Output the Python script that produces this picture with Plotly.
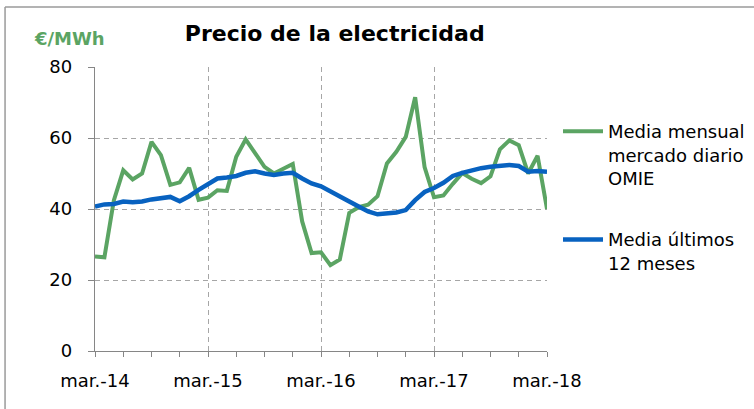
import plotly.graph_objects as go

# Monthly data, mar-2014 .. mar-2018 (49 months)
month_labels = ["mar.-14", "mar.-15", "mar.-16", "mar.-17", "mar.-18"]
month_index = list(range(49))

omie_monthly = [
    26.6, 26.4, 42.4, 50.9, 48.3, 50.0, 58.9, 55.2, 46.8, 47.5, 51.6, 42.6,
    43.2, 45.3, 45.1, 54.7, 59.6, 55.6, 51.9, 50.0, 51.3, 52.7, 36.5, 27.6,
    27.8, 24.2, 25.8, 38.9, 40.5, 41.2, 43.6, 52.8, 56.1, 60.3, 71.5, 51.8,
    43.3, 43.8, 47.1, 50.1, 48.5, 47.3, 49.2, 56.8, 59.3, 58.0, 50.0, 55.0, 40.0,
]
avg_12m = [
    40.7, 41.3, 41.4, 42.1, 41.9, 42.1, 42.7, 43.0, 43.4, 42.2, 43.6, 45.4,
    46.9, 48.6, 48.9, 49.3, 50.2, 50.6, 50.0, 49.6, 50.0, 50.2, 48.6, 47.2,
    46.4, 44.9, 43.3, 42.1, 40.7, 39.3, 38.5, 38.6, 39.0, 39.7, 42.5, 44.8,
    45.9, 47.4, 49.3, 50.2, 51.0, 51.5, 51.9, 52.2, 52.4, 52.1, 50.5, 50.7, 50.5,
]
y_ticks = [0, 20, 40, 60, 80]

GREEN = "#5ba463"
BLUE = "#0862c0"
GRID = "#a6a6a6"
AXIS = "#868686"
FONT = "DejaVu Sans"

fig = go.Figure()
fig.add_trace(go.Scatter(
    x=month_index, y=omie_monthly, mode="lines", legendgroup="g1",
    name="Media mensual<br>mercado diario<br>OMIE",
    line=dict(color=GREEN, width=4),
))
fig.add_trace(go.Scatter(
    x=month_index, y=avg_12m, mode="lines", legendgroup="g2",
    name="Media últimos<br>12 meses",
    line=dict(color=BLUE, width=4.5),
))

fig.update_layout(
    width=754, height=409,
    margin=dict(l=95, r=207, t=67, b=58, autoexpand=False),
    paper_bgcolor="white", plot_bgcolor="white",
    font=dict(family=FONT, size=18, color="#000000"),
    title=dict(text="<b>Precio de la electricidad</b>", font=dict(size=22, family=FONT),
               x=0.444, xref="container", xanchor="center",
               y=1 - 33 / 409, yref="container", yanchor="middle"),
    showlegend=True,
    legend=dict(x=558 / 754, xref="container", y=1 - 113 / 409, yref="container",
                xanchor="left", yanchor="top", itemwidth=40,
                font=dict(size=18, family=FONT), valign="top",
                tracegroupgap=35, bgcolor="rgba(0,0,0,0)"),
    annotations=[dict(text="<b>€/MWh</b>", xref="paper", yref="paper",
                      x=-0.139, y=1.102, xanchor="left", yanchor="middle",
                      showarrow=False, font=dict(size=18, color=GREEN, family=FONT))],
    shapes=[
        dict(type="line", xref="paper", yref="paper", x0=-0.199, x1=1.5,
             y0=1 + 60 / 284, y1=1 + 60 / 284, line=dict(color="#9a9a9a", width=1.5)),
        dict(type="line", xref="paper", yref="paper", x0=-0.199, x1=-0.199,
             y0=-0.3, y1=1 + 60 / 284, line=dict(color="#9a9a9a", width=1.5)),
    ],
)

fig.update_xaxes(
    range=[0, 48], tickmode="array", tickvals=[0, 12, 24, 36, 48], ticktext=month_labels,
    ticks="outside", ticklen=5, tickcolor=AXIS, tickwidth=1.3,
    showline=True, linecolor=AXIS, linewidth=1.3,
    showgrid=True, gridcolor=GRID, griddash="5px,4px", gridwidth=1.3,
    zeroline=False, ticklabelstandoff=8,
    minor=dict(tickvals=list(range(0, 49, 3)), ticks="outside", ticklen=5,
               tickcolor=AXIS, tickwidth=1.3, showgrid=False),
)
fig.update_yaxes(
    range=[0, 80], tickmode="array", tickvals=y_ticks,
    ticks="outside", ticklen=6, tickcolor=AXIS, tickwidth=1.3,
    showline=True, linecolor=AXIS, linewidth=1.3,
    showgrid=True, gridcolor=GRID, griddash="5px,4px", gridwidth=1.3,
    zeroline=False, ticklabelstandoff=12,
)

fig.write_html("out.html", config={"displayModeBar": False},
               post_script="document.body.style.margin='0';")
